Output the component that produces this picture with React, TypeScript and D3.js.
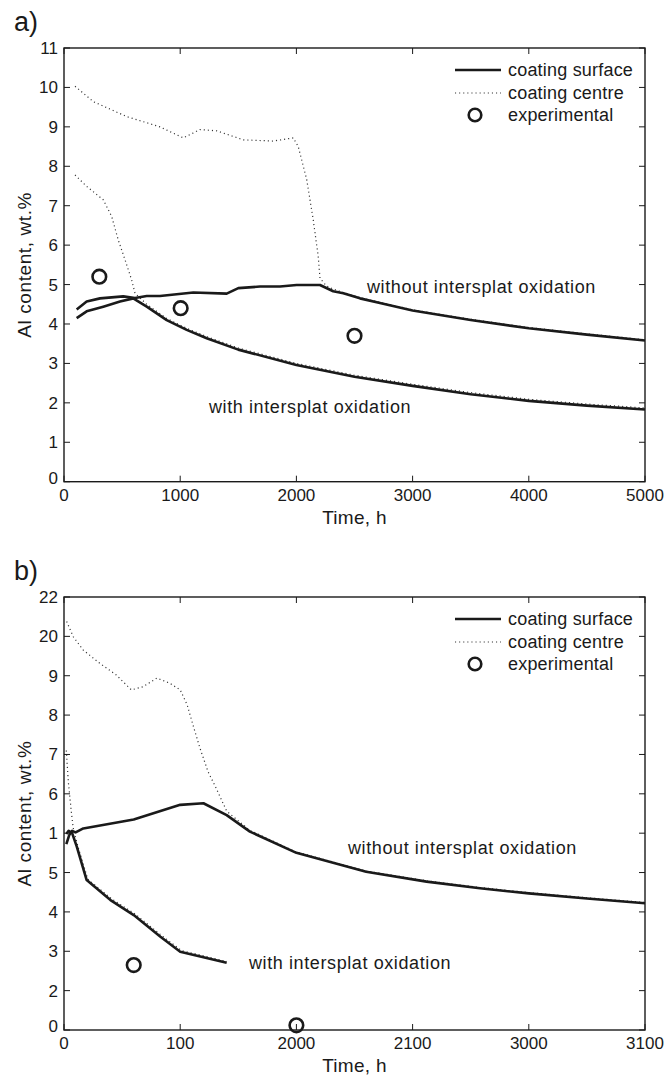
import React from "react";
import * as d3 from "d3";

type P = [number, number];

// ---------- Panel a data (Time h, Al wt.%) ----------
const aSurfaceWithout: P[] = [
  [109, 4.37], [195, 4.57], [310, 4.65], [510, 4.7], [611, 4.66], [712, 4.71], [826, 4.71],
  [1113, 4.8], [1400, 4.77], [1500, 4.91], [1687, 4.95], [1859, 4.95], [2002, 4.99],
  [2203, 4.99], [2317, 4.83], [2404, 4.78], [2547, 4.65], [2719, 4.53], [3000, 4.34],
  [3500, 4.1], [4000, 3.89], [4500, 3.73], [5000, 3.58],
];
const aCentreWithout: P[] = [
  [95, 10.03], [252, 9.64], [540, 9.26], [826, 9.0], [1027, 8.72], [1170, 8.93], [1314, 8.9],
  [1543, 8.67], [1801, 8.64], [1973, 8.72], [2016, 8.5], [2089, 7.66], [2145, 6.64],
  [2188, 5.71], [2203, 5.16], [2260, 4.96], [2332, 4.87], [2404, 4.8], [2547, 4.67],
  [2719, 4.55], [3000, 4.36], [3500, 4.12], [4000, 3.91], [4500, 3.75], [5000, 3.6],
];
const aSurfaceWith: P[] = [
  [109, 4.15], [195, 4.32], [338, 4.44], [482, 4.57], [596, 4.65], [712, 4.44], [884, 4.1],
  [1056, 3.85], [1228, 3.64], [1500, 3.35], [2000, 2.96], [2500, 2.66], [3000, 2.43],
  [3500, 2.22], [4000, 2.05], [4500, 1.93], [5000, 1.83],
];
const aCentreWith: P[] = [
  [95, 7.78], [195, 7.49], [338, 7.15], [410, 6.73], [467, 6.13], [525, 5.63], [582, 5.12],
  [611, 4.78], [712, 4.5], [884, 4.14], [1056, 3.89], [1228, 3.68], [1500, 3.39],
  [2000, 3.0], [2500, 2.7], [3000, 2.47], [3500, 2.26], [4000, 2.09], [4500, 1.97], [5000, 1.87],
];
const aExperimental: P[] = [[304, 5.2], [1004, 4.4], [2500, 3.7]];
const aXTicks = [0, 1000, 2000, 3000, 4000, 5000];
const aXLabels = ["0", "1000", "2000", "3000", "4000", "5000"];
const aYTicks = [0, 1, 2, 3, 4, 5, 6, 7, 8, 9, 10, 11];
const aYLabels = ["0", "1", "2", "3", "4", "5", "6", "7", "8", "9", "10", "11"];

// ---------- Panel b data (tick position units) ----------
const bSurfaceWithout: P[] = [
  [0.02, 4.72], [0.045, 4.95], [0.07, 5.06], [0.1, 5.02], [0.166, 5.12], [0.6, 5.35],
  [1.0, 5.72], [1.2, 5.76], [1.4, 5.46], [1.6, 5.04], [2.0, 4.5], [2.6, 4.02],
  [3.12, 3.77], [3.58, 3.6], [4.0, 3.47], [4.5, 3.34], [5.0, 3.22],
];
const bCentreWithout: P[] = [
  [0.023, 10.38], [0.08, 9.99], [0.166, 9.65], [0.31, 9.31], [0.45, 9.02], [0.58, 8.64],
  [0.68, 8.72], [0.8, 8.94], [0.91, 8.81], [1.0, 8.64], [1.06, 8.26], [1.11, 7.75],
  [1.17, 7.16], [1.24, 6.56], [1.31, 6.14], [1.4, 5.56], [1.6, 5.07], [2.0, 4.52],
  [2.6, 4.04], [3.12, 3.79], [3.58, 3.62], [4.0, 3.49], [4.5, 3.36], [5.0, 3.24],
];
const bSurfaceWith: P[] = [
  [0.02, 4.98], [0.04, 5.06], [0.07, 5.0], [0.11, 4.66], [0.195, 3.81], [0.4, 3.3],
  [0.6, 2.92], [0.83, 2.37], [1.0, 1.99], [1.4, 1.71],
];
const bCentreWith: P[] = [
  [0.02, 7.1], [0.037, 6.31], [0.066, 5.46], [0.08, 5.12], [0.12, 4.66], [0.205, 3.83],
  [0.41, 3.33], [0.61, 2.95], [0.84, 2.4], [1.01, 2.02], [1.4, 1.74],
];
const bExperimental: P[] = [[0.6, 1.65], [2.0, 0.12]];
const bXTicks = [0, 1, 2, 3, 4, 5];
const bXLabels = ["0", "100", "2000", "2100", "3000", "3100"];
const bYTicks = [0, 1, 2, 3, 4, 5, 6, 7, 8, 9, 10, 11];
const bYLabels = ["0", "2", "3", "4", "5", "1", "6", "7", "8", "9", "20", "22"];

const FONT = "'Liberation Sans', Arial, Helvetica, sans-serif";
const INK = "#1a1a1a";
const DOT = "#333";

interface PanelProps {
  tag: string;
  top: number;
  bottom: number;
  xDomain: [number, number];
  xTicks: number[];
  xLabels: string[];
  yTicks: number[];
  yLabels: string[];
  surfWithout: P[];
  centWithout: P[];
  surfWith: P[];
  centWith: P[];
  exp: P[];
  withoutLabel: [number, number];
  withLabel: [number, number];
}

function Panel(p: PanelProps) {
  const left = 64;
  const right = 645;
  const x = d3.scaleLinear().domain(p.xDomain).range([left, right]);
  const y = d3.scaleLinear().domain([0, 11]).range([p.bottom, p.top]);
  const line = d3
    .line<P>()
    .x((d) => x(d[0]))
    .y((d) => y(d[1]));
  const tick = 6;
  const midY = (p.top + p.bottom) / 2;
  const legY = p.top + 22;
  return (
    <g fontFamily={FONT} fill={INK}>
      <text x={14} y={p.top - 17} fontSize={27}>
        {p.tag}
      </text>
      {/* curves */}
      <path d={line(p.centWithout) || ""} fill="none" stroke={DOT} strokeWidth={1.2} strokeDasharray="1.1,3" />
      <path d={line(p.centWith) || ""} fill="none" stroke={DOT} strokeWidth={1.2} strokeDasharray="1.1,3" />
      <path d={line(p.surfWithout) || ""} fill="none" stroke={INK} strokeWidth={2.6} strokeLinejoin="round" />
      <path d={line(p.surfWith) || ""} fill="none" stroke={INK} strokeWidth={2.6} strokeLinejoin="round" />
      {p.exp.map((d, i) => (
        <circle key={i} cx={x(d[0])} cy={y(d[1])} r={6.8} fill="none" stroke={INK} strokeWidth={2.6} />
      ))}
      {/* frame */}
      <rect x={left} y={p.top} width={right - left} height={p.bottom - p.top} fill="none" stroke={INK} strokeWidth={1.4} />
      {p.xTicks.map((t, i) => (
        <g key={"x" + i}>
          <line x1={x(t)} x2={x(t)} y1={p.bottom} y2={p.bottom - tick} stroke={INK} strokeWidth={1} />
          <line x1={x(t)} x2={x(t)} y1={p.top} y2={p.top + tick} stroke={INK} strokeWidth={1} />
          <text x={x(t)} y={p.bottom + 19} fontSize={17} textAnchor="middle">
            {p.xLabels[i]}
          </text>
        </g>
      ))}
      {p.yTicks.map((t, i) => (
        <g key={"y" + i}>
          <line x1={left} x2={left + tick} y1={y(t)} y2={y(t)} stroke={INK} strokeWidth={1} />
          <line x1={right} x2={right - tick} y1={y(t)} y2={y(t)} stroke={INK} strokeWidth={1} />
          <text x={58} y={y(t) + (t === 0 ? 2 : 6)} fontSize={17} textAnchor="end">
            {p.yLabels[i]}
          </text>
        </g>
      ))}
      <text x={(left + right) / 2} y={p.bottom + 42} fontSize={19} textAnchor="middle" letterSpacing={0.3}>
        Time, h
      </text>
      <text transform={`translate(31,${midY}) rotate(-90)`} fontSize={19} textAnchor="middle" letterSpacing={0.6}>
        Al content, wt.%
      </text>
      {/* legend */}
      <line x1={455} x2={501} y1={legY} y2={legY} stroke={INK} strokeWidth={2.6} />
      <text x={508} y={legY + 6} fontSize={18} letterSpacing={0.2}>coating surface</text>
      <line x1={455} x2={501} y1={legY + 23} y2={legY + 23} stroke={DOT} strokeWidth={1.2} strokeDasharray="1.1,3" />
      <text x={508} y={legY + 29} fontSize={18} letterSpacing={0.2}>coating centre</text>
      <circle cx={475} cy={legY + 45} r={6.3} fill="none" stroke={INK} strokeWidth={2.6} />
      <text x={508} y={legY + 51} fontSize={18} letterSpacing={0.2}>experimental</text>
      {/* annotations */}
      <text x={p.withoutLabel[0]} y={p.withoutLabel[1]} fontSize={18} letterSpacing={0.6}>without intersplat oxidation</text>
      <text x={p.withLabel[0]} y={p.withLabel[1]} fontSize={18} letterSpacing={0.6}>with intersplat oxidation</text>
    </g>
  );
}

export default function App() {
  return (
    <svg
      width={668}
      height={1079}
      viewBox="0 0 668 1079"
      style={{ position: "absolute", left: 0, top: 0, background: "#fff" }}
    >
      <rect width={668} height={1079} fill="#fff" />
      <Panel
        tag="a)"
        top={48}
        bottom={481.7}
        xDomain={[0, 5000]}
        xTicks={aXTicks}
        xLabels={aXLabels}
        yTicks={aYTicks}
        yLabels={aYLabels}
        surfWithout={aSurfaceWithout}
        centWithout={aCentreWithout}
        surfWith={aSurfaceWith}
        centWith={aCentreWith}
        exp={aExperimental}
        withoutLabel={[367, 293]}
        withLabel={[209, 413]}
      />
      <Panel
        tag="b)"
        top={597}
        bottom={1030}
        xDomain={[0, 5]}
        xTicks={bXTicks}
        xLabels={bXLabels}
        yTicks={bYTicks}
        yLabels={bYLabels}
        surfWithout={bSurfaceWithout}
        centWithout={bCentreWithout}
        surfWith={bSurfaceWith}
        centWith={bCentreWith}
        exp={bExperimental}
        withoutLabel={[348, 854]}
        withLabel={[249, 969]}
      />
    </svg>
  );
}
